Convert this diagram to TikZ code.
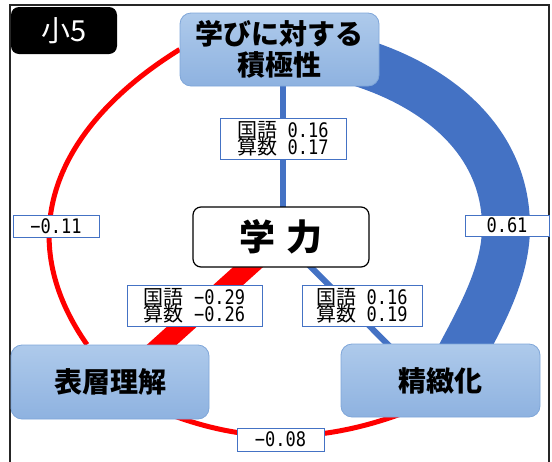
\documentclass[tikz,border=0pt]{standalone}
\usepackage{fontspec}
\setmainfont{Noto Sans CJK JP}
\newfontfamily\jpf{Noto Sans CJK JP}
\newfontfamily\numf[FakeStretch=0.85]{DejaVu Sans Mono}
\usetikzlibrary{calc}
\pgfdeclarelayer{bottom}
\pgfdeclarelayer{background}
\pgfsetlayers{bottom,background,main}
\definecolor{bandblue}{HTML}{4472C4}
\definecolor{boxtop}{HTML}{AECAEB}
\definecolor{boxbot}{HTML}{8EB2E0}
\definecolor{boxedge}{HTML}{7FA6D9}
\definecolor{redline}{HTML}{FF0000}
\newcommand\lblline[2]{{\jpf #1}{\numf\ #2}}
\newcommand\tightlines{\lineskiplimit-30pt\relax}
\tikzset{
  bluebox/.style={rounded corners=11pt, draw=boxedge, line width=0.8pt,
    top color=boxtop, bottom color=boxbot, inner sep=0pt, align=center,
    font=\jpf\bfseries\fontsize{28}{31}\selectfont},
  lblbox/.style={draw=bandblue, line width=1pt, fill=white, inner sep=0pt,
    align=center, font=\fontsize{20}{17}\selectfont\tightlines},
  numbox/.style={lblbox, font=\numf\fontsize{20}{20}\selectfont},
  redarc/.style={draw=redline, line width=5pt},
  blueline/.style={draw=bandblue, line width=6pt},
}
\begin{document}
\begin{tikzpicture}[x=1pt,y=-1pt]
\useasboundingbox (0,0) rectangle (552,461);
\clip (0,0) rectangle (552,461);
% nodes
\node[bluebox, minimum width=199pt, minimum height=73pt] (top) at (279.5,49.5) {学びに対する\\積極性};
\node[draw=black, line width=1.2pt, rounded corners=8pt, fill=white, inner sep=0pt,
      minimum width=176pt, minimum height=60pt,
      font=\jpf\bfseries\fontsize{36}{36}\selectfont] (gaku) at (281,237) {学\hspace{11pt}力};
\node[bluebox, minimum width=198pt, minimum height=74pt] (surf) at (110,382) {表層理解};
\node[bluebox, minimum width=199pt, minimum height=73pt] (seik) at (440.5,380.5) {精緻化};
\node[fill=black, rounded corners=8pt, inner sep=0pt, minimum width=106pt, minimum height=47pt,
      text=white, font=\jpf\fontsize{29}{29}\selectfont] (grade) at (64,30.5) {小5};
% labels
\node[lblbox, minimum width=126pt, minimum height=41pt] (l1) at (283,138.5) {\lblline{国語}{0.16}\\\lblline{算数}{0.17}};
\node[lblbox, minimum width=135pt, minimum height=41pt] (l2) at (194.5,305.5) {\lblline{国語}{−0.29}\\\lblline{算数}{−0.26}};
\node[lblbox, minimum width=120pt, minimum height=41pt] (l3) at (362,305.5) {\lblline{国語}{0.16}\\\lblline{算数}{0.19}};
\node[numbox, minimum width=86pt, minimum height=22pt] (l4) at (56,226) {−0.11};
\node[numbox, minimum width=84pt, minimum height=21pt] (l5) at (507,225.5) {0.61};
\node[numbox, minimum width=87pt, minimum height=23pt] (l6) at (280.5,439.5) {−0.08};
% connectors
\begin{pgfonlayer}{background}
\coordinate (bs) at ($(top.east)+(-39,7.5)$);
\coordinate (bm) at ($(l5.north)+(-1,12.5)$);
\coordinate (be) at ($(seik.north)+(12.5,26)$);
\draw[draw=bandblue, line width=48pt] (bs) .. controls +(90,22.5) and +(0,-90) .. (bm)
      .. controls +(0,50) and +(23,-44.5) .. (be);
\draw[redarc] (top.west) .. controls (61,123) and (7,230) .. ($(surf.north)+(-23,0)$);
\draw[redarc] ($(surf.south east)+(-34,-3)$) .. controls (252,444) and (323,442) .. ($(seik.south west)+(59,-3)$);
\draw[blueline] ($(top.south)+(3.5,-5)$) -- ($(gaku.north)+(2,5)$);
\draw[draw=redline, line width=20pt, shorten <=-15pt, shorten >=-15pt] ($(gaku.south)+(-33.5,0)$) -- ($(surf.north)+(52,0)$);
\draw[blueline, shorten <=-12pt, shorten >=-12pt] ($(gaku.south)+(30.5,0)$) -- ($(seik.north)+(-53.5,0)$);
\end{pgfonlayer}
\begin{pgfonlayer}{bottom}
\draw[line width=1.1pt, draw=black!85] (10,5) rectangle (549,480);
\end{pgfonlayer}
\end{tikzpicture}
\end{document}
